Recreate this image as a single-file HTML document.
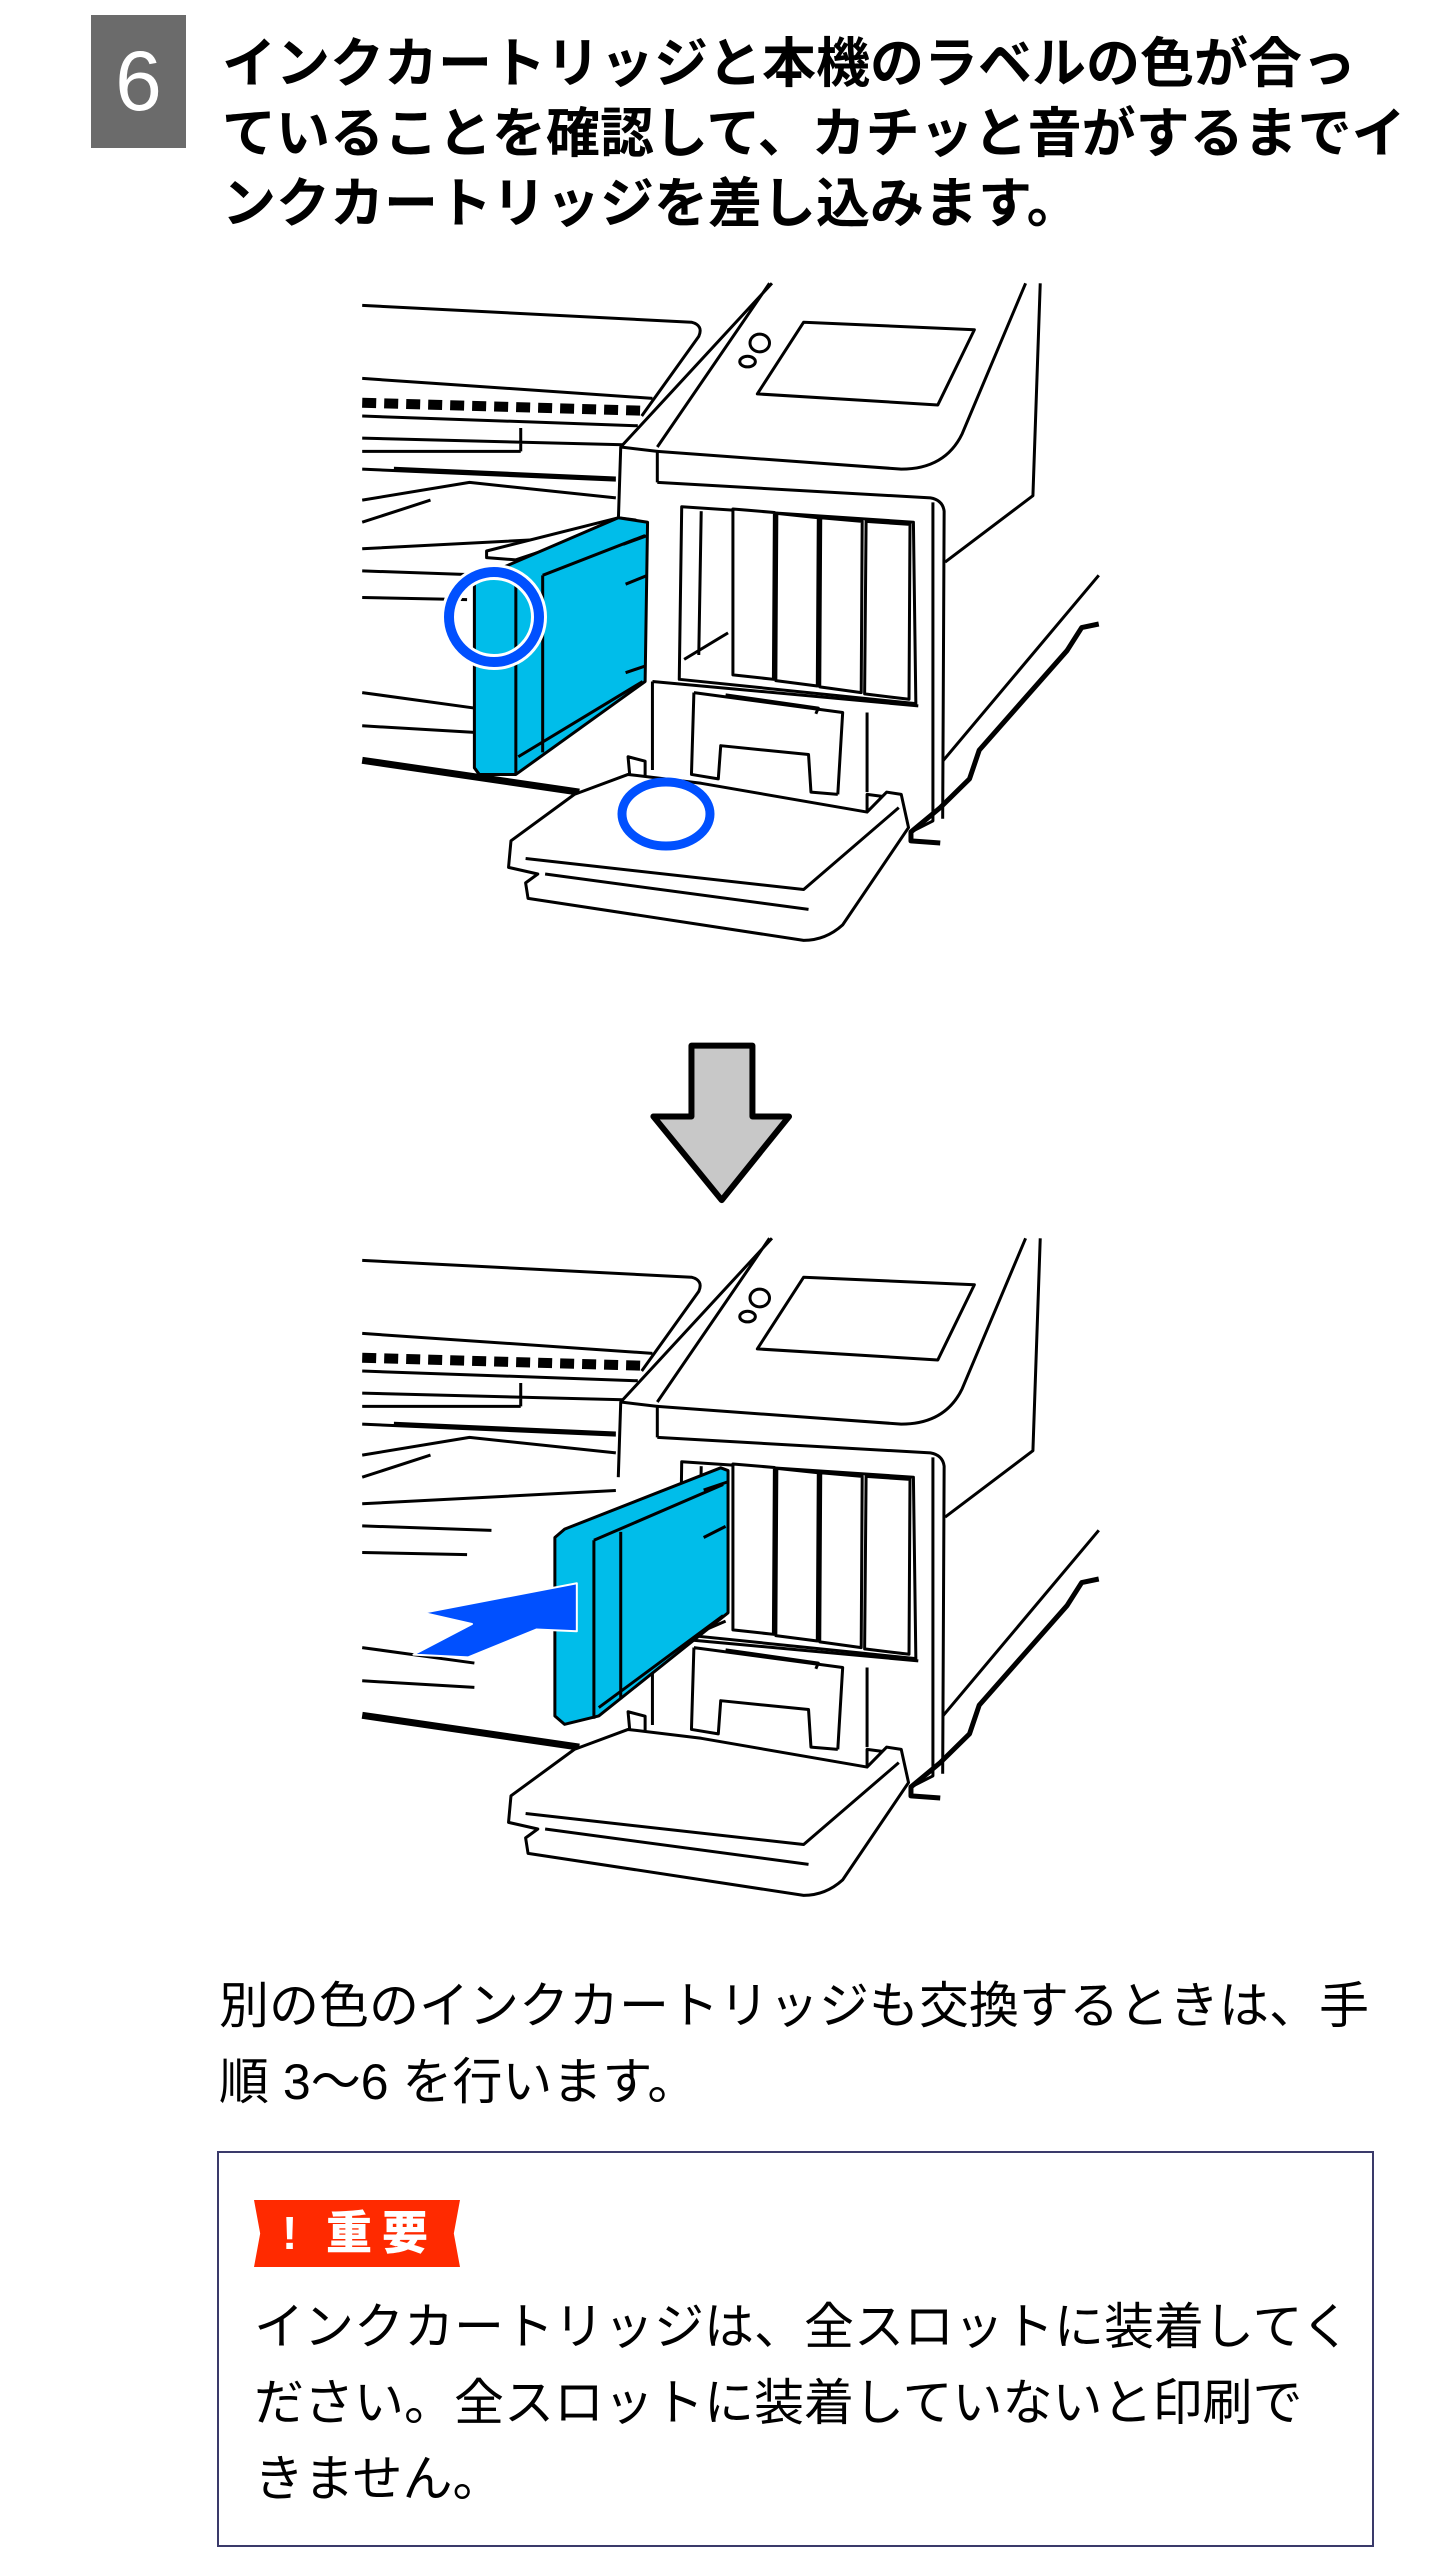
<!DOCTYPE html>
<html><head><meta charset="utf-8">
<style>
html,body{margin:0;padding:0;background:#fff;}
body{width:1452px;height:2560px;position:relative;overflow:hidden;font-family:"Liberation Sans","Noto Sans CJK JP",sans-serif;color:#000;}
.badge{position:absolute;left:91px;top:15px;width:95px;height:133px;background:#6b6b6b;color:#fff;font-size:84px;line-height:133px;text-align:center;font-family:"Liberation Sans",sans-serif;}
.title{position:absolute;left:222px;top:29px;width:1230px;font-size:54px;line-height:70px;font-weight:bold;white-space:nowrap;}
.p{position:absolute;left:219px;top:1968px;width:1180px;font-size:50px;line-height:76px;}
.box{position:absolute;left:217px;top:2151px;width:1157px;height:396px;border:2px solid #3a3a6a;box-sizing:border-box;}
.imp{position:absolute;left:254px;top:2200px;width:206px;height:67px;background:#ff2a00;color:#fff;font-weight:bold;font-size:46px;line-height:67px;clip-path:polygon(0 0,100% 0,97% 50%,100% 100%,0 100%,3% 50%);}
.imp span{position:absolute;left:28px;}
.imp b{position:absolute;left:72px;letter-spacing:10px;}
.bt{position:absolute;left:254px;top:2289px;width:1110px;font-size:50px;line-height:76px;white-space:nowrap;}
svg{position:absolute;left:0;top:0;}
</style></head><body>
<div class="badge">6</div>
<div class="title">インクカートリッジと本機のラベルの色が合っ<br>ていることを確認して、カチッと音がするまでイ<br>ンクカートリッジを差し込みます。</div>

<svg width="1452" height="2000" viewBox="0 0 1452 2000">
<defs>
<g id="printer" fill="none" stroke="#000" stroke-width="3" stroke-linejoin="round">
 <g transform="translate(350,270) scale(0.4878,0.4425)">
  <path vector-effect="non-scaling-stroke" d="M25,80 L700,118 Q725,125 715,150 L598,330"/>
  <path vector-effect="non-scaling-stroke" d="M25,245 L620,290"/>
  <path vector-effect="non-scaling-stroke" d="M25,300 L600,318" stroke-dasharray="14,8" stroke-width="10"/>
  <path vector-effect="non-scaling-stroke" d="M25,330 L590,352"/>
  <path vector-effect="non-scaling-stroke" d="M25,380 L560,395 M350,357 L350,410 M25,410 L350,410"/>
  <path vector-effect="non-scaling-stroke" d="M25,450 L545,475 M90,448 L545,470"/>
  <path vector-effect="non-scaling-stroke" d="M25,520 L245,480 L545,515 M25,570 L165,520"/>
  <path vector-effect="non-scaling-stroke" d="M25,630 L545,600 M25,680 L290,690 M25,740 L240,745 M25,955 L255,990 M25,1030 L255,1045"/>
  <path vector-effect="non-scaling-stroke" d="M25,1108 L470,1180" stroke-width="7"/>
  <path vector-effect="non-scaling-stroke" d="M865,30 L555,400 L550,570 M555,400 L630,410 L630,480 M860,30 L630,400"/>
  <path vector-effect="non-scaling-stroke" d="M1385,30 L1255,370 Q1220,450 1130,450 L630,410"/>
  <path vector-effect="non-scaling-stroke" d="M1415,30 L1400,510 L1220,660"/>
  <path vector-effect="non-scaling-stroke" d="M930,118 L1280,135 L1205,305 L835,280 Z"/>
  <circle vector-effect="non-scaling-stroke" cx="840" cy="165" r="20"/>
  <ellipse vector-effect="non-scaling-stroke" cx="815" cy="207" rx="16" ry="12"/>
  <path vector-effect="non-scaling-stroke" d="M630,480 L1190,515 Q1215,520 1218,545 L1215,1240 M1195,525 L1195,1245 L1150,1270"/>
  <path vector-effect="non-scaling-stroke" d="M680,535 L1155,570 L1160,980 L675,925 Z M720,545 L715,870 M685,880 L775,820"/>
  <path vector-effect="non-scaling-stroke" fill="#fff" d="M785,540 L870,548 L868,925 L785,915 Z M875,550 L960,560 L958,940 L873,928 Z M965,560 L1050,568 L1048,955 L963,942 Z M1058,568 L1148,575 L1146,970 L1055,958 Z"/>
  <path vector-effect="non-scaling-stroke" d="M620,930 L1165,985 M620,930 L620,1130 M705,955 L1010,1000 L1000,1185 M705,955 L700,1140 L755,1150 L760,1075 L940,1095 L945,1180 L1000,1185 M1060,1000 L1060,1180 M770,960 L960,990 L955,1003"/>
  <path vector-effect="non-scaling-stroke" d="M570,1100 L575,1160 L605,1160 L605,1110 Z M1060,1185 L1060,1245 L1095,1245 L1095,1190 Z"/>
  <path vector-effect="non-scaling-stroke" fill="#fff" d="M460,1185 L330,1290 L325,1350 L385,1365 L360,1385 L365,1420 L930,1515 Q975,1515 1010,1480 L1145,1260 L1130,1185 L1100,1180 L1060,1225 L720,1160 L570,1140 Z"/>
  <path vector-effect="non-scaling-stroke" d="M360,1330 L930,1400 L1125,1215 M400,1365 L940,1445"/>
  <path vector-effect="non-scaling-stroke" d="M1535,690 L1215,1110"/>
  <path vector-effect="non-scaling-stroke" d="M1535,800 L1500,808 L1470,860 L1290,1085 L1270,1150 L1210,1215 L1150,1270 L1150,1290 L1210,1295" stroke-width="5"/>
 </g>
</g>
</defs>

<use href="#printer"/>
<g transform="translate(350,270) scale(0.4878,0.4425)" stroke="#000" stroke-width="3" stroke-linejoin="round">
 <path vector-effect="non-scaling-stroke" fill="#fff" d="M280,635 L550,560 L585,565 L340,655 L280,650 Z"/>
 <path vector-effect="non-scaling-stroke" fill="#00bdea" d="M255,700 L550,560 L610,570 L605,930 L340,1140 L265,1140 L255,1125 Z"/>
 <path vector-effect="non-scaling-stroke" fill="none" d="M340,700 L340,1140 M395,690 L395,1090 M395,690 L605,600 M560,620 L610,600 M565,710 L610,690 M565,910 L605,895 M345,1100 L600,930"/>
</g>
<circle cx="494" cy="617" r="45" fill="none" stroke="#fff" stroke-width="16"/>
<circle cx="494" cy="617" r="45" fill="none" stroke="#0050ff" stroke-width="10"/>
<ellipse cx="666" cy="814" rx="44" ry="32" fill="none" stroke="#0050ff" stroke-width="9"/>

<g transform="translate(350,1030) scale(0.4878,0.5577)">
 <path vector-effect="non-scaling-stroke" d="M700,28 L825,28 L825,155 L900,155 L762,305 L622,155 L700,155 Z" fill="#c8c8c8" stroke="#000" stroke-width="6" stroke-linejoin="round"/>
</g>

<g transform="translate(0,955)"><use href="#printer"/></g>
<g transform="translate(350,1030) scale(0.4878,0.5577)" stroke="#000" stroke-width="3" stroke-linejoin="round">
 <path vector-effect="non-scaling-stroke" fill="#00bdea" d="M420,910 L440,895 L760,785 L775,790 L775,1045 L510,1230 L440,1245 L420,1230 Z"/>
 <path vector-effect="non-scaling-stroke" fill="none" d="M500,915 L500,1235 M555,900 L555,1200 M500,915 L765,815 M725,825 L775,810 M725,910 L770,890 M730,1075 L770,1060 M510,1215 L765,1050"/>
 <path fill="#0050ff" stroke="#fff" stroke-width="2" vector-effect="non-scaling-stroke" d="M150,1045 L465,992 L465,1078 L382,1075 L242,1125 L130,1120 L250,1065 Z"/>
</g>
</svg>

<div class="p">別の色のインクカートリッジも交換するときは、手順 3〜6 を行います。</div>
<div class="box"></div>
<div class="imp"><span>!</span><b>重要</b></div>
<div class="bt">インクカートリッジは、全スロットに装着してく<br>ださい。全スロットに装着していないと印刷で<br>きません。</div>
</body></html>
